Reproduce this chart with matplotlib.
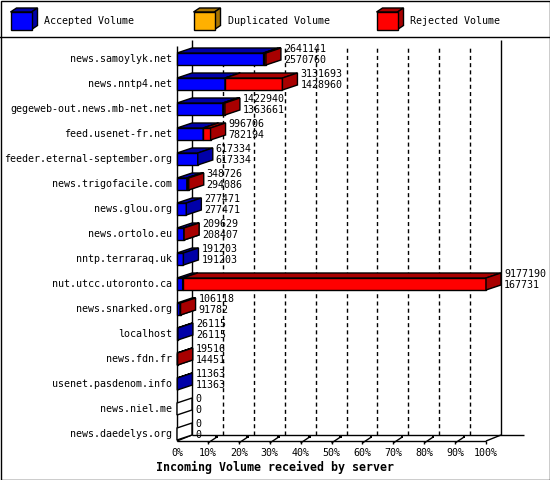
import matplotlib
matplotlib.use("Agg")
import matplotlib.pyplot as plt
from matplotlib.patches import Polygon, Rectangle
from matplotlib.transforms import IdentityTransform
from matplotlib.lines import Line2D

# ---------------- data ----------------
servers = ["news.samoylyk.net", "news.nntp4.net", "gegeweb-out.news.mb-net.net",
           "feed.usenet-fr.net", "feeder.eternal-september.org", "news.trigofacile.com",
           "news.glou.org", "news.ortolo.eu", "nntp.terraraq.uk", "nut.utcc.utoronto.ca",
           "news.snarked.org", "localhost", "news.fdn.fr", "usenet.pasdenom.info",
           "news.niel.me", "news.daedelys.org"]
total = [2641141, 3131693, 1422940, 996706, 617334, 348726, 277471, 209629,
         191203, 9177190, 106118, 26115, 19516, 11363, 0, 0]
accepted = [2570760, 1428960, 1363661, 782194, 617334, 294086, 277471, 208407,
            191203, 167731, 91782, 26115, 14451, 11363, 0, 0]
duplicated = [0] * 16
tick_values = [0, 10, 20, 30, 40, 50, 60, 70, 80, 90, 100]
tick_labels = ["0%", "10%", "20%", "30%", "40%", "50%", "60%", "70%", "80%", "90%", "100%"]
legend_labels = ["Accepted Volume", "Duplicated Volume", "Rejected Volume"]
x_title = "Incoming Volume received by server"

# ---------------- style ----------------
FRONT = ["#0000FF", "#FFB000", "#FF0000"]
DARK = ["#0000A8", "#A87400", "#A80000"]
FONT = "DejaVu Sans Mono"
FS = 7.2
plt.rcParams["lines.scale_dashes"] = False

W, H = 550, 480
fig = plt.figure(figsize=(W / 100, H / 100), dpi=100)
fig.patch.set_facecolor("white")

FX0, FX1 = 177, 486
FYT, FYB = 46, 441
ROW0, ROWSTEP = 59, 25
ax = fig.add_axes([FX0 / W, 1 - FYB / H, (FX1 - FX0) / W, (FYB - FYT) / H])
ax.set_axis_off()
ax.set_xlim(0, 100)
ybot = (FYB - ROW0) / ROWSTEP
ytop = (FYT - ROW0) / ROWSTEP
ax.set_ylim(ybot, ytop)

BDX, BDY = 15, 5     # bar depth (px)
WDX, WDY = 15, 6     # wall depth (px)
HALF = 6 / ROWSTEP   # half bar height in data units

IDT = IdentityTransform()


def D(x, y, ox=0.0, oy=0.0):
    p = ax.transData.transform((x, y))
    return (p[0] + ox, p[1] + oy)


def line(p, q, **kw):
    kw.setdefault("color", "black")
    kw.setdefault("lw", 1.0)
    ax.add_line(Line2D([p[0], q[0]], [p[1], q[1]], transform=IDT, clip_on=False,
                       solid_capstyle="butt", **kw))


def poly(pts, fc, z=3):
    ax.add_patch(Polygon(pts, closed=True, facecolor=fc, edgecolor="black", lw=1.0,
                         transform=IDT, clip_on=False, zorder=z, joinstyle="miter"))


# ---------------- walls / grid ----------------
for k in tick_values[1:-1]:
    line(D(k, ybot, WDX, WDY), D(k, ytop, WDX, WDY - 8), ls=(0, (2.9, 2.3)), zorder=1)
line(D(0, ybot, WDX, WDY), D(0, ytop, WDX, WDY), zorder=1)
line(D(100, ybot, WDX, WDY), D(100, ytop, WDX, WDY), zorder=1)
line(D(0, ybot, WDX, WDY), D(100, ybot, WDX + 23, WDY), zorder=1)
line(D(0, ybot), D(100, ybot), zorder=1)
line(D(0, ybot), D(0, ytop), zorder=1)
line(D(0, ybot), D(0, ybot, WDX, WDY), zorder=1)
line(D(100, ybot), D(100, ybot, WDX, WDY), zorder=1)

# ticks on the floor
for k in tick_values[1:-1]:
    line(D(k, ybot, 0, -3), D(k, ybot, 0, 0), zorder=2)
    line(D(k, ybot, 0, -2), D(k, ybot, 9, 4), zorder=2)
    ax.add_patch(Rectangle(D(k, ybot, 7.5, 3), 2.5, 2.5, facecolor="black", edgecolor="none",
                           transform=IDT, clip_on=False, zorder=2))
line(D(100, ybot, 0, -3), D(100, ybot, 0, 0), zorder=2)

for k, lab in zip(tick_values, tick_labels):
    ax.annotate(lab, xy=(k, ybot), xytext=(0, -12), textcoords="offset pixels",
                ha="center", va="center", fontsize=FS, family=FONT, annotation_clip=False)

ax.annotate(x_title, xy=(0, ybot), xytext=(-21, -26), textcoords="offset pixels",
            ha="left", va="center", fontsize=8.4, family=FONT, fontweight="bold",
            annotation_clip=False)

# ---------------- bars ----------------
vmax = max(total)
for i, name in enumerate(servers):
    yt, yb = i - HALF, i + HALF
    rej = total[i] - accepted[i] - duplicated[i]
    segs = [accepted[i], duplicated[i], rej]
    start = 0.0
    drawn = False
    for s, val in enumerate(segs):
        if val <= 0:
            continue
        x0 = start / vmax * 100
        x1 = (start + val) / vmax * 100
        start += val
        # front
        poly([D(x0, yb), D(x1, yb), D(x1, yt), D(x0, yt)], FRONT[s])
        # top
        poly([D(x0, yt), D(x1, yt), D(x1, yt, BDX, BDY), D(x0, yt, BDX, BDY)], DARK[s])
        # side
        poly([D(x1, yb), D(x1, yt), D(x1, yt, BDX, BDY), D(x1, yb, BDX, BDY)], DARK[s])
        drawn = True
    if not drawn:
        poly([D(0, yb), D(0, yt), D(0, yt, BDX, BDY), D(0, yb, BDX, BDY)], "white")

    xe = total[i] / vmax * 100
    ax.annotate(str(total[i]), xy=(xe, yt), xytext=(BDX + 3, BDY - 1),
                textcoords="offset pixels", ha="left", va="center", fontsize=FS,
                family=FONT, annotation_clip=False, zorder=5)
    ax.annotate(str(accepted[i]), xy=(xe, yt), xytext=(BDX + 3, BDY - 12),
                textcoords="offset pixels", ha="left", va="center", fontsize=FS,
                family=FONT, annotation_clip=False, zorder=5)
    ax.annotate(name, xy=(0, i), xytext=(-5, 0), textcoords="offset pixels",
                ha="right", va="center", fontsize=FS, family=FONT, annotation_clip=False)

# ---------------- legend (figure pixel layout) ----------------
def P(x, y):
    return (x, H - y)

for j, lab in enumerate(legend_labels):
    lx = 10.5 + 183 * j
    fx0, fx1, fy0, fy1 = lx, lx + 21, 12, 29.5
    dx, dy = 6, 4
    fig.patches.append(Polygon([P(fx0, fy0), P(fx1, fy0), P(fx1 + dx, fy0 - dy), P(fx0 + dx, fy0 - dy)],
                               closed=True, facecolor=DARK[j], edgecolor="black", lw=1.0,
                               transform=IDT, figure=fig))
    fig.patches.append(Polygon([P(fx1, fy0), P(fx1, fy1), P(fx1 + dx, fy1 - dy), P(fx1 + dx, fy0 - dy)],
                               closed=True, facecolor=DARK[j], edgecolor="black", lw=1.0,
                               transform=IDT, figure=fig))
    fig.patches.append(Rectangle(P(fx0, fy1), fx1 - fx0, fy1 - fy0, facecolor=FRONT[j],
                                 edgecolor="black", lw=1.0, transform=IDT, figure=fig))
    fig.text(lx + 34 / W * 0 + 34, H - 21, lab, transform=IDT, ha="left", va="center",
             fontsize=FS, family=FONT)

# separator and border
fig.lines.append(Line2D([0, W], [H - 36.5, H - 36.5], color="black", lw=1.0,
                        transform=IDT, figure=fig))
fig.patches.append(Rectangle((0.5, 0.5), W - 1, H - 1, facecolor="none", edgecolor="black",
                             lw=1.0, transform=IDT, figure=fig))

fig.savefig("out.png", dpi=100, facecolor="white")
